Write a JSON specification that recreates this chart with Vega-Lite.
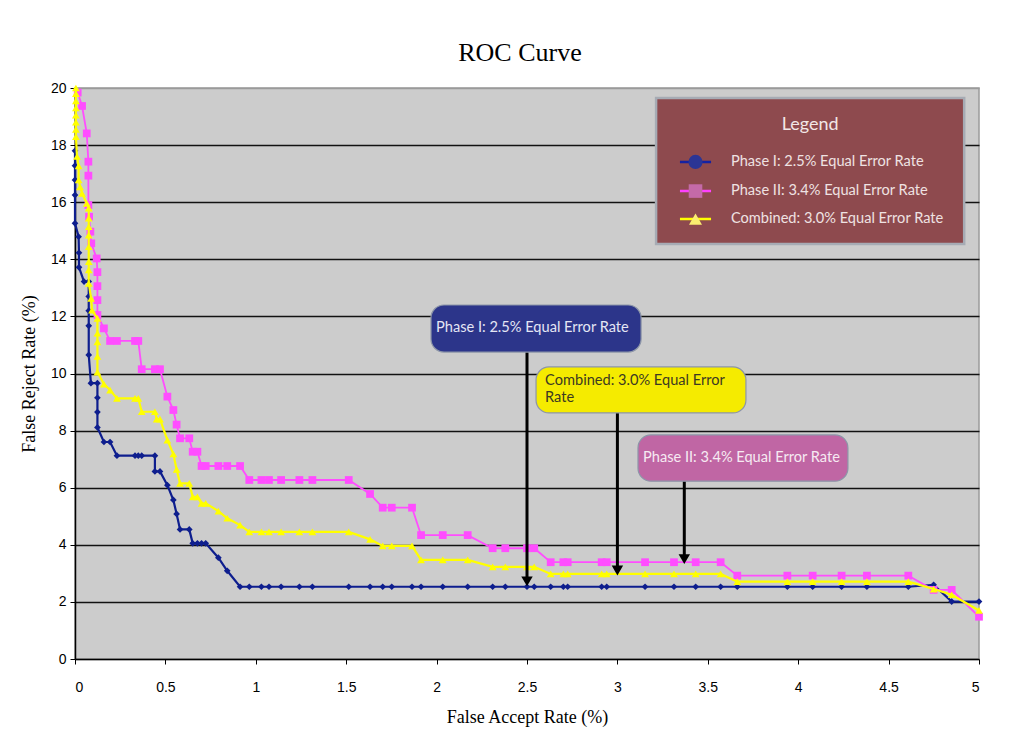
{
  "$schema": "https://vega.github.io/schema/vega-lite/v6.json",
  "width": 904,
  "height": 571,
  "autosize": {"type": "none"},
  "padding": {"left": 75, "top": 88, "right": 39, "bottom": 80},
  "background": "white",
  "title": {"text": "ROC Curve", "font": "Liberation Serif", "fontSize": 26, "fontWeight": "normal", "color": "#000000", "anchor": "middle", "offset": 15, "dx": -7},
  "config": {
    "view": {"fill": "#CCCCCC", "stroke": "#9A9A9A", "strokeWidth": 1.5},
    "axis": {"labelFont": "Liberation Sans", "labelFontSize": 14, "labelColor": "#000000", "titleFont": "Liberation Serif", "titleFontSize": 18, "titleFontWeight": "normal", "titleColor": "#000000", "domainColor": "#000000", "tickColor": "#000000", "tickSize": 5}
  },
  "datasets": {
    "roc": [
      {"s": "Phase I", "x": 0, "y": 17.8}, {"s": "Phase I", "x": 0, "y": 17.28}, {"s": "Phase I", "x": 0, "y": 16.78}, {"s": "Phase I", "x": 0, "y": 16.25}, {"s": "Phase I", "x": 0, "y": 15.26}, {"s": "Phase I", "x": 0.02, "y": 14.79}, {"s": "Phase I", "x": 0.022, "y": 14.23}, {"s": "Phase I", "x": 0.022, "y": 13.72}, {"s": "Phase I", "x": 0.05, "y": 13.22}, {"s": "Phase I", "x": 0.076, "y": 13.22}, {"s": "Phase I", "x": 0.076, "y": 12.7}, {"s": "Phase I", "x": 0.076, "y": 12.2}, {"s": "Phase I", "x": 0.076, "y": 11.67}, {"s": "Phase I", "x": 0.076, "y": 10.65}, {"s": "Phase I", "x": 0.088, "y": 9.66}, {"s": "Phase I", "x": 0.124, "y": 9.66}, {"s": "Phase I", "x": 0.124, "y": 9.15}, {"s": "Phase I", "x": 0.124, "y": 8.65}, {"s": "Phase I", "x": 0.124, "y": 8.11}, {"s": "Phase I", "x": 0.16, "y": 7.6}, {"s": "Phase I", "x": 0.194, "y": 7.6}, {"s": "Phase I", "x": 0.232, "y": 7.12}, {"s": "Phase I", "x": 0.332, "y": 7.12}, {"s": "Phase I", "x": 0.35, "y": 7.12}, {"s": "Phase I", "x": 0.369, "y": 7.12}, {"s": "Phase I", "x": 0.442, "y": 7.12}, {"s": "Phase I", "x": 0.442, "y": 6.57}, {"s": "Phase I", "x": 0.47, "y": 6.57}, {"s": "Phase I", "x": 0.511, "y": 6.09}, {"s": "Phase I", "x": 0.544, "y": 5.57}, {"s": "Phase I", "x": 0.562, "y": 5.08}, {"s": "Phase I", "x": 0.581, "y": 4.54}, {"s": "Phase I", "x": 0.632, "y": 4.54}, {"s": "Phase I", "x": 0.651, "y": 4.05}, {"s": "Phase I", "x": 0.677, "y": 4.05}, {"s": "Phase I", "x": 0.7, "y": 4.05}, {"s": "Phase I", "x": 0.723, "y": 4.05}, {"s": "Phase I", "x": 0.793, "y": 3.55}, {"s": "Phase I", "x": 0.842, "y": 3.09}, {"s": "Phase I", "x": 0.913, "y": 2.53}, {"s": "Phase I", "x": 0.964, "y": 2.53}, {"s": "Phase I", "x": 1.031, "y": 2.53}, {"s": "Phase I", "x": 1.073, "y": 2.53}, {"s": "Phase I", "x": 1.14, "y": 2.53}, {"s": "Phase I", "x": 1.241, "y": 2.53}, {"s": "Phase I", "x": 1.313, "y": 2.53}, {"s": "Phase I", "x": 1.514, "y": 2.53}, {"s": "Phase I", "x": 1.632, "y": 2.53}, {"s": "Phase I", "x": 1.702, "y": 2.53}, {"s": "Phase I", "x": 1.752, "y": 2.53}, {"s": "Phase I", "x": 1.864, "y": 2.53}, {"s": "Phase I", "x": 1.914, "y": 2.53}, {"s": "Phase I", "x": 2.034, "y": 2.53}, {"s": "Phase I", "x": 2.172, "y": 2.53}, {"s": "Phase I", "x": 2.31, "y": 2.53}, {"s": "Phase I", "x": 2.38, "y": 2.53}, {"s": "Phase I", "x": 2.5, "y": 2.53}, {"s": "Phase I", "x": 2.54, "y": 2.53}, {"s": "Phase I", "x": 2.631, "y": 2.53}, {"s": "Phase I", "x": 2.701, "y": 2.53}, {"s": "Phase I", "x": 2.725, "y": 2.53}, {"s": "Phase I", "x": 2.913, "y": 2.53}, {"s": "Phase I", "x": 2.941, "y": 2.53}, {"s": "Phase I", "x": 3.153, "y": 2.53}, {"s": "Phase I", "x": 3.313, "y": 2.53}, {"s": "Phase I", "x": 3.433, "y": 2.53}, {"s": "Phase I", "x": 3.571, "y": 2.53}, {"s": "Phase I", "x": 3.663, "y": 2.53}, {"s": "Phase I", "x": 3.94, "y": 2.53}, {"s": "Phase I", "x": 4.08, "y": 2.53}, {"s": "Phase I", "x": 4.24, "y": 2.53}, {"s": "Phase I", "x": 4.38, "y": 2.53}, {"s": "Phase I", "x": 4.609, "y": 2.53}, {"s": "Phase I", "x": 4.749, "y": 2.6}, {"s": "Phase I", "x": 4.849, "y": 2.01}, {"s": "Phase I", "x": 5.0, "y": 2.01},

      {"s": "Phase II", "x": 0.015, "y": 19.84}, {"s": "Phase II", "x": 0.039, "y": 19.37}, {"s": "Phase II", "x": 0.065, "y": 18.41}, {"s": "Phase II", "x": 0.074, "y": 17.42}, {"s": "Phase II", "x": 0.074, "y": 16.93}, {"s": "Phase II", "x": 0.074, "y": 15.9}, {"s": "Phase II", "x": 0.078, "y": 15.49}, {"s": "Phase II", "x": 0.085, "y": 14.97}, {"s": "Phase II", "x": 0.09, "y": 14.56}, {"s": "Phase II", "x": 0.12, "y": 14.03}, {"s": "Phase II", "x": 0.124, "y": 13.55}, {"s": "Phase II", "x": 0.124, "y": 13.06}, {"s": "Phase II", "x": 0.124, "y": 12.57}, {"s": "Phase II", "x": 0.124, "y": 12.05}, {"s": "Phase II", "x": 0.16, "y": 11.58}, {"s": "Phase II", "x": 0.194, "y": 11.14}, {"s": "Phase II", "x": 0.232, "y": 11.14}, {"s": "Phase II", "x": 0.332, "y": 11.14}, {"s": "Phase II", "x": 0.35, "y": 11.14}, {"s": "Phase II", "x": 0.369, "y": 10.15}, {"s": "Phase II", "x": 0.442, "y": 10.15}, {"s": "Phase II", "x": 0.47, "y": 10.15}, {"s": "Phase II", "x": 0.511, "y": 9.19}, {"s": "Phase II", "x": 0.544, "y": 8.72}, {"s": "Phase II", "x": 0.562, "y": 8.21}, {"s": "Phase II", "x": 0.581, "y": 7.73}, {"s": "Phase II", "x": 0.632, "y": 7.73}, {"s": "Phase II", "x": 0.651, "y": 7.26}, {"s": "Phase II", "x": 0.677, "y": 7.26}, {"s": "Phase II", "x": 0.7, "y": 6.76}, {"s": "Phase II", "x": 0.723, "y": 6.76}, {"s": "Phase II", "x": 0.793, "y": 6.76}, {"s": "Phase II", "x": 0.842, "y": 6.76}, {"s": "Phase II", "x": 0.913, "y": 6.76}, {"s": "Phase II", "x": 0.964, "y": 6.27}, {"s": "Phase II", "x": 1.031, "y": 6.27}, {"s": "Phase II", "x": 1.073, "y": 6.27}, {"s": "Phase II", "x": 1.14, "y": 6.27}, {"s": "Phase II", "x": 1.241, "y": 6.27}, {"s": "Phase II", "x": 1.313, "y": 6.27}, {"s": "Phase II", "x": 1.514, "y": 6.27}, {"s": "Phase II", "x": 1.632, "y": 5.78}, {"s": "Phase II", "x": 1.702, "y": 5.3}, {"s": "Phase II", "x": 1.752, "y": 5.3}, {"s": "Phase II", "x": 1.864, "y": 5.3}, {"s": "Phase II", "x": 1.914, "y": 4.34}, {"s": "Phase II", "x": 2.034, "y": 4.34}, {"s": "Phase II", "x": 2.172, "y": 4.34}, {"s": "Phase II", "x": 2.31, "y": 3.88}, {"s": "Phase II", "x": 2.38, "y": 3.88}, {"s": "Phase II", "x": 2.5, "y": 3.88}, {"s": "Phase II", "x": 2.54, "y": 3.88}, {"s": "Phase II", "x": 2.631, "y": 3.39}, {"s": "Phase II", "x": 2.701, "y": 3.39}, {"s": "Phase II", "x": 2.725, "y": 3.39}, {"s": "Phase II", "x": 2.913, "y": 3.39}, {"s": "Phase II", "x": 2.941, "y": 3.39}, {"s": "Phase II", "x": 3.153, "y": 3.39}, {"s": "Phase II", "x": 3.313, "y": 3.39}, {"s": "Phase II", "x": 3.433, "y": 3.39}, {"s": "Phase II", "x": 3.571, "y": 3.39}, {"s": "Phase II", "x": 3.663, "y": 2.92}, {"s": "Phase II", "x": 3.94, "y": 2.92}, {"s": "Phase II", "x": 4.08, "y": 2.92}, {"s": "Phase II", "x": 4.24, "y": 2.92}, {"s": "Phase II", "x": 4.38, "y": 2.92}, {"s": "Phase II", "x": 4.609, "y": 2.92}, {"s": "Phase II", "x": 4.749, "y": 2.42}, {"s": "Phase II", "x": 4.849, "y": 2.42}, {"s": "Phase II", "x": 5.0, "y": 1.48},

      {"s": "Combined", "x": 0.005, "y": 20.0}, {"s": "Combined", "x": 0.005, "y": 19.8}, {"s": "Combined", "x": 0.005, "y": 19.55}, {"s": "Combined", "x": 0.005, "y": 19.3}, {"s": "Combined", "x": 0.005, "y": 19.05}, {"s": "Combined", "x": 0.005, "y": 18.8}, {"s": "Combined", "x": 0.005, "y": 18.55}, {"s": "Combined", "x": 0.005, "y": 18.3}, {"s": "Combined", "x": 0.011, "y": 17.6}, {"s": "Combined", "x": 0.02, "y": 17.27}, {"s": "Combined", "x": 0.02, "y": 16.78}, {"s": "Combined", "x": 0.028, "y": 16.54}, {"s": "Combined", "x": 0.039, "y": 16.31}, {"s": "Combined", "x": 0.065, "y": 15.96}, {"s": "Combined", "x": 0.076, "y": 15.79}, {"s": "Combined", "x": 0.076, "y": 15.44}, {"s": "Combined", "x": 0.076, "y": 15.14}, {"s": "Combined", "x": 0.076, "y": 14.85}, {"s": "Combined", "x": 0.076, "y": 14.44}, {"s": "Combined", "x": 0.076, "y": 13.92}, {"s": "Combined", "x": 0.076, "y": 13.63}, {"s": "Combined", "x": 0.076, "y": 13.16}, {"s": "Combined", "x": 0.089, "y": 12.63}, {"s": "Combined", "x": 0.094, "y": 12.22}, {"s": "Combined", "x": 0.124, "y": 11.93}, {"s": "Combined", "x": 0.124, "y": 11.41}, {"s": "Combined", "x": 0.124, "y": 11.11}, {"s": "Combined", "x": 0.124, "y": 10.6}, {"s": "Combined", "x": 0.124, "y": 10.05}, {"s": "Combined", "x": 0.16, "y": 9.63}, {"s": "Combined", "x": 0.194, "y": 9.42}, {"s": "Combined", "x": 0.232, "y": 9.13}, {"s": "Combined", "x": 0.332, "y": 9.13}, {"s": "Combined", "x": 0.35, "y": 9.13}, {"s": "Combined", "x": 0.369, "y": 8.66}, {"s": "Combined", "x": 0.442, "y": 8.66}, {"s": "Combined", "x": 0.452, "y": 8.4}, {"s": "Combined", "x": 0.47, "y": 8.4}, {"s": "Combined", "x": 0.511, "y": 7.67}, {"s": "Combined", "x": 0.544, "y": 7.18}, {"s": "Combined", "x": 0.562, "y": 6.64}, {"s": "Combined", "x": 0.581, "y": 6.15}, {"s": "Combined", "x": 0.632, "y": 6.15}, {"s": "Combined", "x": 0.651, "y": 5.68}, {"s": "Combined", "x": 0.677, "y": 5.68}, {"s": "Combined", "x": 0.7, "y": 5.45}, {"s": "Combined", "x": 0.723, "y": 5.45}, {"s": "Combined", "x": 0.793, "y": 5.18}, {"s": "Combined", "x": 0.842, "y": 4.93}, {"s": "Combined", "x": 0.913, "y": 4.69}, {"s": "Combined", "x": 0.964, "y": 4.45}, {"s": "Combined", "x": 1.031, "y": 4.45}, {"s": "Combined", "x": 1.073, "y": 4.45}, {"s": "Combined", "x": 1.14, "y": 4.45}, {"s": "Combined", "x": 1.241, "y": 4.45}, {"s": "Combined", "x": 1.313, "y": 4.45}, {"s": "Combined", "x": 1.514, "y": 4.45}, {"s": "Combined", "x": 1.632, "y": 4.19}, {"s": "Combined", "x": 1.702, "y": 3.96}, {"s": "Combined", "x": 1.752, "y": 3.96}, {"s": "Combined", "x": 1.864, "y": 3.96}, {"s": "Combined", "x": 1.914, "y": 3.47}, {"s": "Combined", "x": 2.034, "y": 3.47}, {"s": "Combined", "x": 2.172, "y": 3.47}, {"s": "Combined", "x": 2.31, "y": 3.23}, {"s": "Combined", "x": 2.38, "y": 3.23}, {"s": "Combined", "x": 2.5, "y": 3.23}, {"s": "Combined", "x": 2.54, "y": 3.23}, {"s": "Combined", "x": 2.631, "y": 2.98}, {"s": "Combined", "x": 2.701, "y": 2.98}, {"s": "Combined", "x": 2.725, "y": 2.98}, {"s": "Combined", "x": 2.913, "y": 2.98}, {"s": "Combined", "x": 2.941, "y": 2.98}, {"s": "Combined", "x": 3.153, "y": 2.98}, {"s": "Combined", "x": 3.313, "y": 2.98}, {"s": "Combined", "x": 3.433, "y": 2.98}, {"s": "Combined", "x": 3.571, "y": 2.98}, {"s": "Combined", "x": 3.663, "y": 2.71}, {"s": "Combined", "x": 3.94, "y": 2.71}, {"s": "Combined", "x": 4.08, "y": 2.71}, {"s": "Combined", "x": 4.24, "y": 2.71}, {"s": "Combined", "x": 4.38, "y": 2.71}, {"s": "Combined", "x": 4.609, "y": 2.71}, {"s": "Combined", "x": 4.749, "y": 2.45}, {"s": "Combined", "x": 4.849, "y": 2.25}, {"s": "Combined", "x": 5.0, "y": 1.7}
    ],
    "callouts": [
      {"name": "Phase I", "x": 1.969, "x2": 3.131, "y": 12.4, "y2": 10.75},
      {"name": "Combined", "x": 2.55, "x2": 3.711, "y": 10.23, "y2": 8.62},
      {"name": "Phase II", "x": 3.114, "x2": 4.275, "y": 7.85, "y2": 6.23}
    ],
    "calloutText": [
      {"name": "Phase I", "x": 1.997, "y": 11.59, "t": "Phase I: 2.5% Equal Error Rate"},
      {"name": "Combined", "x": 2.6, "y": 9.74, "t": "Combined: 3.0% Equal Error"},
      {"name": "Combined", "x": 2.6, "y": 9.14, "t": "Rate"},
      {"name": "Phase II", "x": 3.142, "y": 7.04, "t": "Phase II: 3.4% Equal Error Rate"}
    ],
    "arrows": [
      {"name": "Phase I", "x": 2.5, "y": 10.75, "tip": 2.72},
      {"name": "Combined", "x": 3.0, "y": 8.62, "tip": 3.1},
      {"name": "Phase II", "x": 3.37, "y": 6.23, "tip": 3.5}
    ],
    "legendBox": [{"x": 3.214, "x2": 4.918, "y": 19.65, "y2": 14.54, "t": "Legend", "tx": 4.066, "ty": 18.7}],
    "legendItems": [
      {"s": "Phase I", "x": 3.346, "x2": 3.518, "cx": 3.432, "lx": 3.628, "y": 17.41, "t": "Phase I: 2.5% Equal Error Rate"},
      {"s": "Phase II", "x": 3.346, "x2": 3.518, "cx": 3.432, "lx": 3.628, "y": 16.39, "t": "Phase II: 3.4% Equal Error Rate"},
      {"s": "Combined", "x": 3.346, "x2": 3.518, "cx": 3.432, "lx": 3.628, "y": 15.41, "t": "Combined: 3.0% Equal Error Rate"}
    ]
  },
  "resolve": {"scale": {"color": "independent", "shape": "independent", "fill": "independent", "stroke": "independent"}},
  "layer": [
    {
      "data": {"name": "roc"},
      "transform": [{"filter": "datum.s === 'Phase I'"}],
      "mark": {"type": "line", "color": "#0E1E8E", "strokeWidth": 2.2, "point": {"shape": "diamond", "size": 45, "filled": true, "color": "#0E1E8E"}},
      "encoding": {
        "x": {"field": "x", "type": "quantitative", "scale": {"domain": [0, 5], "nice": false, "zero": false}, "axis": {"title": "False Accept Rate (%)", "values": [0, 0.5, 1, 1.5, 2, 2.5, 3, 3.5, 4, 4.5, 5], "format": "~g", "grid": false, "labelPadding": 16, "titlePadding": 14, "domainWidth": 1.5}},
        "y": {"field": "y", "type": "quantitative", "scale": {"domain": [0, 20], "nice": false, "zero": true}, "axis": {"title": "False Reject Rate (%)", "values": [0, 2, 4, 6, 8, 10, 12, 14, 16, 18, 20], "format": "d", "grid": true, "gridColor": {"condition": {"test": "datum.value === 20 || datum.value === 0", "value": "#9A9A9A"}, "value": "#111111"}, "gridWidth": 1.6, "labelPadding": 4, "titlePadding": 12, "domainWidth": 1.5}},
        "order": {"value": null}
      }
    },
    {
      "data": {"name": "roc"},
      "transform": [{"filter": "datum.s === 'Phase II'"}],
      "mark": {"type": "line", "color": "#FF4DFF", "strokeWidth": 1.8, "point": {"shape": "square", "size": 60, "filled": true, "color": "#FF4DFF"}},
      "encoding": {
        "x": {"field": "x", "type": "quantitative"},
        "y": {"field": "y", "type": "quantitative"},
        "order": {"value": null}
      }
    },
    {
      "data": {"name": "roc"},
      "transform": [{"filter": "datum.s === 'Combined'"}],
      "mark": {"type": "line", "color": "#FFFF00", "strokeWidth": 2.2, "point": {"shape": "triangle-up", "size": 60, "filled": true, "color": "#FFFF00"}},
      "encoding": {
        "x": {"field": "x", "type": "quantitative"},
        "y": {"field": "y", "type": "quantitative"},
        "order": {"value": null}
      }
    },
    {
      "data": {"name": "arrows"},
      "mark": {"type": "rule", "color": "#000000", "strokeWidth": 3},
      "encoding": {
        "x": {"field": "x", "type": "quantitative"},
        "y": {"field": "y", "type": "quantitative"},
        "y2": {"field": "tip"}
      }
    },
    {
      "data": {"name": "arrows"},
      "mark": {"type": "point", "shape": "triangle-down", "size": 130, "filled": true, "color": "#000000", "opacity": 1},
      "encoding": {
        "x": {"field": "x", "type": "quantitative"},
        "y": {"field": "tip", "type": "quantitative"}
      }
    },
    {
      "data": {"name": "callouts"},
      "mark": {"type": "rect", "cornerRadius": 13, "stroke": "#8C95A8", "strokeWidth": 1.2},
      "encoding": {
        "x": {"field": "x", "type": "quantitative"},
        "x2": {"field": "x2"},
        "y": {"field": "y", "type": "quantitative"},
        "y2": {"field": "y2"},
        "fill": {"field": "name", "type": "nominal", "scale": {"domain": ["Phase I", "Combined", "Phase II"], "range": ["#2C358A", "#F5EB00", "#C066A4"]}, "legend": null}
      }
    },
    {
      "data": {"name": "calloutText"},
      "mark": {"type": "text", "align": "left", "baseline": "middle", "font": "Lato", "fontSize": 14.6},
      "encoding": {
        "x": {"field": "x", "type": "quantitative"},
        "y": {"field": "y", "type": "quantitative"},
        "text": {"field": "t"},
        "color": {"field": "name", "type": "nominal", "scale": {"domain": ["Phase I", "Combined", "Phase II"], "range": ["#E4E6F4", "#3C3A22", "#F6EAF2"]}, "legend": null}
      }
    },
    {
      "data": {"name": "legendBox"},
      "mark": {"type": "rect", "fill": "#8E4A4E", "stroke": "#A6ABB4", "strokeWidth": 2.5},
      "encoding": {
        "x": {"field": "x", "type": "quantitative"},
        "x2": {"field": "x2"},
        "y": {"field": "y", "type": "quantitative"},
        "y2": {"field": "y2"}
      }
    },
    {
      "data": {"name": "legendBox"},
      "mark": {"type": "text", "align": "center", "baseline": "middle", "font": "Lato", "fontSize": 18, "color": "#F2E6E6"},
      "encoding": {
        "x": {"field": "tx", "type": "quantitative"},
        "y": {"field": "ty", "type": "quantitative"},
        "text": {"field": "t"}
      }
    },
    {
      "data": {"name": "legendItems"},
      "mark": {"type": "rule", "strokeWidth": 2.5},
      "encoding": {
        "x": {"field": "x", "type": "quantitative"},
        "x2": {"field": "x2"},
        "y": {"field": "y", "type": "quantitative"},
        "stroke": {"field": "s", "type": "nominal", "scale": {"domain": ["Phase I", "Phase II", "Combined"], "range": ["#1522A2", "#FF40FF", "#FFFF00"]}, "legend": null}
      }
    },
    {
      "data": {"name": "legendItems"},
      "mark": {"type": "point", "filled": true, "opacity": 1},
      "encoding": {
        "x": {"field": "cx", "type": "quantitative"},
        "y": {"field": "y", "type": "quantitative"},
        "shape": {"field": "s", "type": "nominal", "scale": {"domain": ["Phase I", "Phase II", "Combined"], "range": ["circle", "square", "triangle-up"]}, "legend": null},
        "size": {"field": "s", "type": "nominal", "scale": {"domain": ["Phase I", "Phase II", "Combined"], "range": [200, 170, 150]}, "legend": null},
        "color": {"field": "s", "type": "nominal", "scale": {"domain": ["Phase I", "Phase II", "Combined"], "range": ["#2B3595", "#C46AA8", "#FAEE70"]}, "legend": null}
      }
    },
    {
      "data": {"name": "legendItems"},
      "mark": {"type": "text", "align": "left", "baseline": "middle", "font": "Lato", "fontSize": 14.6, "color": "#EFE2E2"},
      "encoding": {
        "x": {"field": "lx", "type": "quantitative"},
        "y": {"field": "y", "type": "quantitative"},
        "text": {"field": "t"}
      }
    }
  ]
}
